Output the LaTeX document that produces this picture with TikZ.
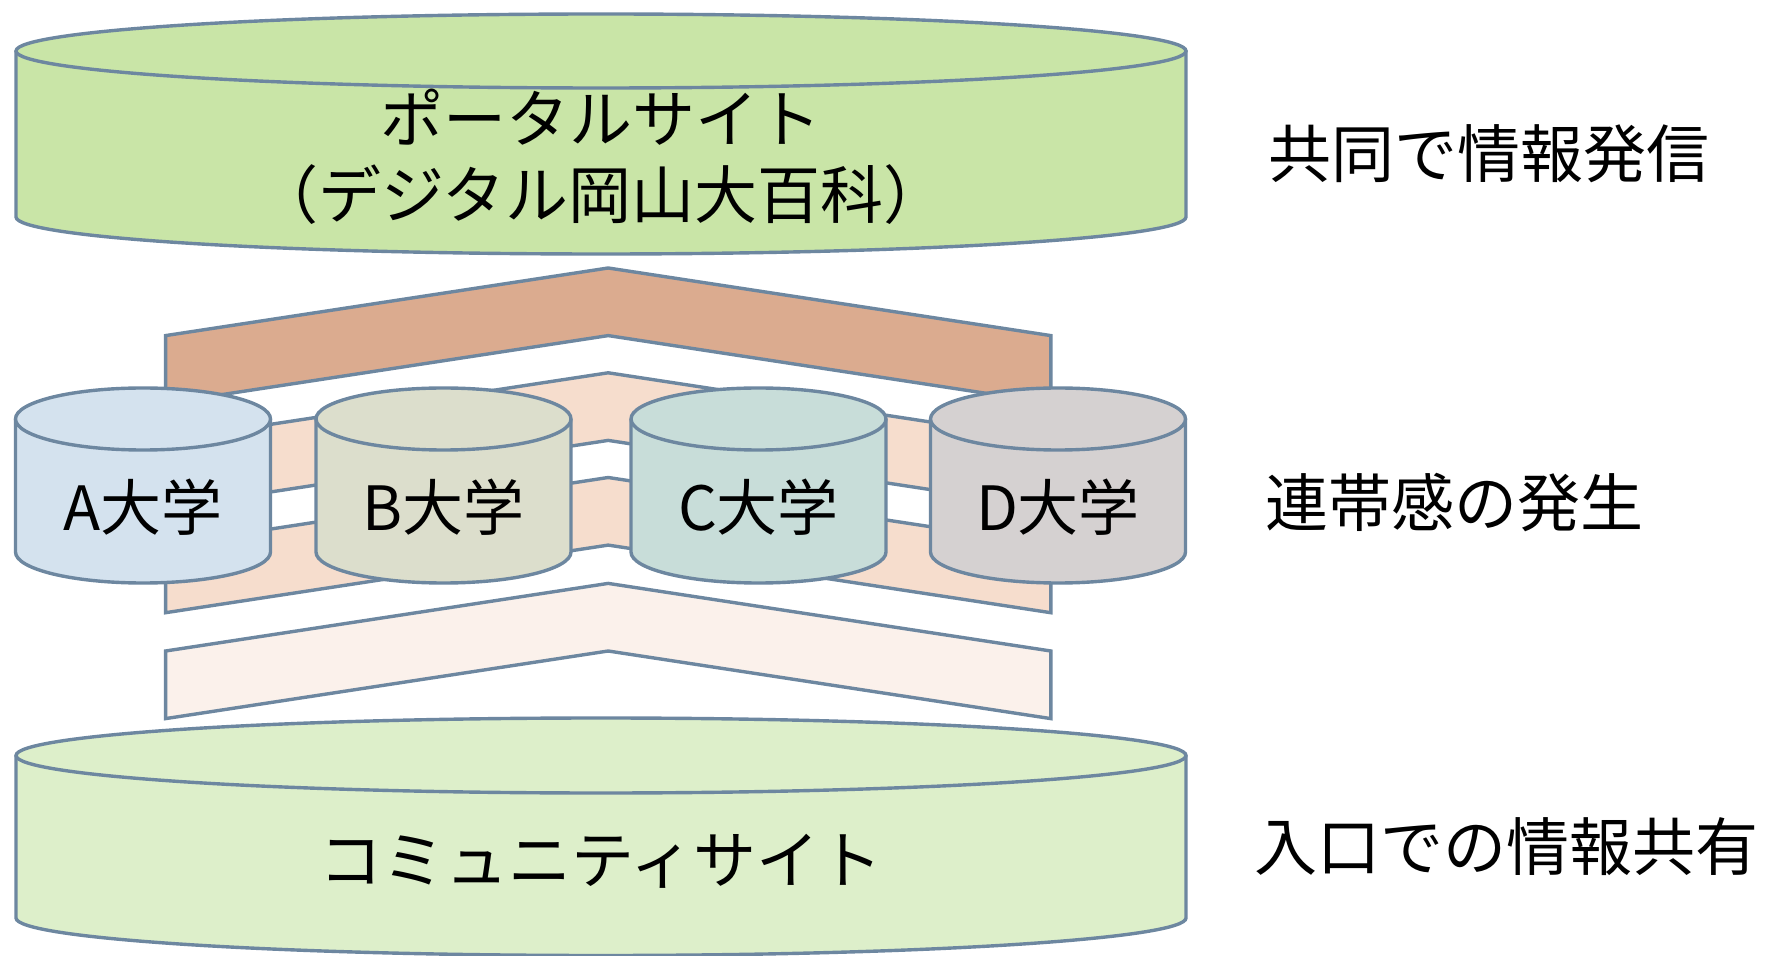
\documentclass[tikz,border=0pt]{standalone}
\usepackage{fontspec}
\newfontfamily\jp{Noto Sans CJK JP}
\definecolor{edge}{HTML}{6D87A0}
\definecolor{topfill}{HTML}{C9E5A7}
\definecolor{botfill}{HTML}{DDEFCA}
\definecolor{afill}{HTML}{D4E2EE}
\definecolor{bfill}{HTML}{DCDECC}
\definecolor{cfill}{HTML}{C8DDD9}
\definecolor{dfill}{HTML}{D5D1D1}
\definecolor{chevA}{HTML}{DBAB8F}
\definecolor{chevB}{HTML}{F6DDCD}
\definecolor{chevC}{HTML}{FBF1EB}
\tikzset{
  cylline/.style={draw=edge, line width=1.7pt},
  chevline/.style={draw=edge, line width=1.7pt, line join=miter},
  bigtext/.style={font=\jp\fontsize{31.5pt}{38pt}\selectfont, align=center, inner sep=0pt},
  sidetext/.style={font=\jp\fontsize{31.5pt}{36pt}\selectfont, anchor=west, inner sep=0pt},
  unitext/.style={font=\jp\fontsize{30.5pt}{36pt}\selectfont, inner sep=0pt}
}
% #1 cx, #2 top centre y, #3 bottom centre y, #4 rx, #5 ry, #6 fill
\newcommand{\drawcyl}[6]{%
  \filldraw[cylline, fill=#6] ({#1-#4},#2) -- ({#1-#4},#3)
     arc[start angle=180, end angle=0, x radius=#4, y radius=#5] -- ({#1+#4},#2);
  \filldraw[cylline, fill=#6] (#1,#2) ellipse[x radius=#4, y radius=#5];
}
% #1 apex y, #2 fill
\newcommand{\drawchev}[2]{%
  \filldraw[chevline, fill=#2] (165.6,{#1+67.6}) -- (608.2,#1) -- (1050.8,{#1+67.6})
     -- (1050.8,{#1+135.2}) -- (608.2,{#1+67.6}) -- (165.6,{#1+135.2}) -- cycle;
}
\begin{document}
\begin{tikzpicture}[x=0.5pt, y=-0.5pt]
\useasboundingbox (0,0) rectangle (1766,956);
\fill[white] (0,0) rectangle (1766,956);

% top cylinder
\drawcyl{601}{51}{217}{585}{37}{topfill}
\node[bigtext] (portal1) at (601,117) {ポータルサイト};
\node[bigtext] (portal2) at (601,195) {（デジタル岡山大百科）};

% chevrons
\drawchev{268}{chevA}
\drawchev{372.8}{chevB}
\drawchev{477.5}{chevB}
\drawchev{583.4}{chevC}

% universities
\drawcyl{143}{419}{552}{127.5}{31}{afill}
\drawcyl{443.5}{419}{552}{127.5}{31}{bfill}
\drawcyl{758.5}{419}{552}{127.5}{31}{cfill}
\drawcyl{1058}{419}{552}{127.5}{31}{dfill}
\node[unitext] (ua) at (143,507) {A大学};
\node[unitext] (ub) at (443.5,507) {B大学};
\node[unitext] (uc) at (758.5,507) {C大学};
\node[unitext] (ud) at (1058,507) {D大学};

% bottom cylinder
\drawcyl{601}{755.5}{918}{585}{37.5}{botfill}
\node[bigtext] (comm) at (601,861) {コミュニティサイト};

% side labels
\node[sidetext] (s1) at (1268,154) {共同で情報発信};
\node[sidetext] (s2) at (1265,503) {連帯感の発生};
\node[sidetext] (s3) at (1254,847) {入口での情報共有};
\end{tikzpicture}
\end{document}
